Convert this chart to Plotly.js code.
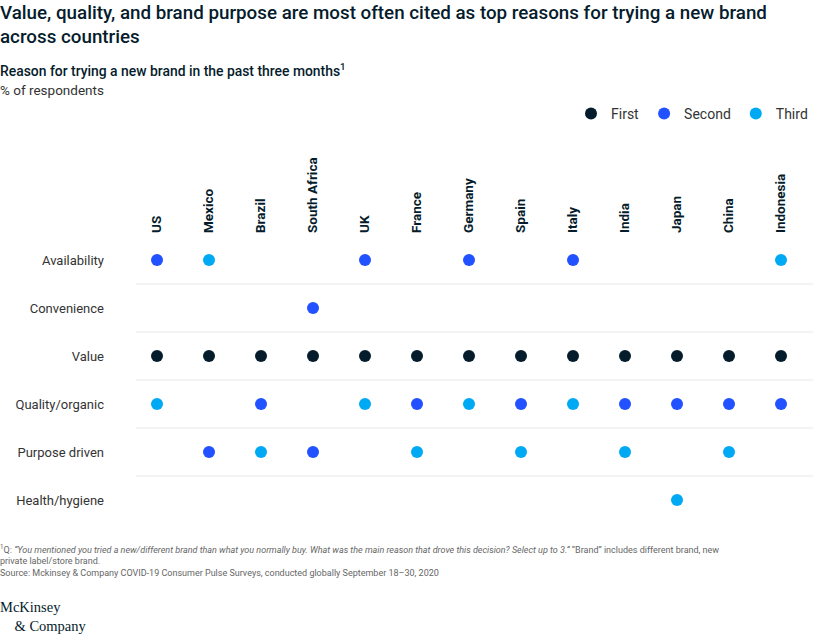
<!DOCTYPE html>
<html>
<head>
<meta charset="utf-8">
<script src="https://cdn.plot.ly/plotly-3.0.1.min.js"></script>
<style>html,body{margin:0;padding:0;background:#fff;}#chart{width:813px;height:636px;}</style>
</head>
<body>
<div id="chart"></div>
<script>
const countries = ['US','Mexico','Brazil','South Africa','UK','France','Germany','Spain','Italy','India','Japan','China','Indonesia'];
const reasons = ['Availability','Convenience','Value','Quality/organic','Purpose driven','Health/hygiene'];

const firstCountries = ['US','Mexico','Brazil','South Africa','UK','France','Germany','Spain','Italy','India','Japan','China','Indonesia'];
const firstReasons = ['Value','Value','Value','Value','Value','Value','Value','Value','Value','Value','Value','Value','Value'];

const secondCountries = ['US','Mexico','Brazil','South Africa','South Africa','UK','France','Germany','Spain','Italy','India','Japan','China','Indonesia'];
const secondReasons = ['Availability','Purpose driven','Quality/organic','Convenience','Purpose driven','Availability','Quality/organic','Availability','Quality/organic','Availability','Quality/organic','Quality/organic','Quality/organic','Quality/organic'];

const thirdCountries = ['US','Mexico','Brazil','UK','France','Germany','Spain','Italy','India','Japan','China','Indonesia'];
const thirdReasons = ['Quality/organic','Availability','Purpose driven','Quality/organic','Purpose driven','Quality/organic','Purpose driven','Quality/organic','Purpose driven','Health/hygiene','Purpose driven','Availability'];

const FONT = 'Roboto, "Liberation Sans", Arial, sans-serif';
const C1 = '#051C2C', C2 = '#2251FF', C3 = '#00A9F4';

function tr(name, xs, ys, color){
  return {type:'scatter', mode:'markers', name:name, x:xs, y:ys,
    marker:{color:color, size:12, line:{width:0}}, hoverinfo:'x+y+name'};
}
const data = [
  tr('First', firstCountries, firstReasons, C1),
  tr('Second', secondCountries, secondReasons, C2),
  tr('Third', thirdCountries, thirdReasons, C3)
];

const shapes = [];
for (let i = 0; i < reasons.length - 1; i++) {
  shapes.push({type:'line', xref:'paper', x0:0, x1:1, yref:'y', y0:i+0.5, y1:i+0.5,
    line:{color:'#e8e8e8', width:1}, layer:'below'});
}

// pixel helpers (plot area: x 136..813, y 236..524)
const px = x => (x - 136) / 677;
const py = y => (524 - y) / 288;

const layout = {
  width:813, height:636,
  margin:{l:136, r:0, t:236, b:112, autoexpand:false},
  paper_bgcolor:'#fff', plot_bgcolor:'#fff',
  font:{family:FONT, color:'#051C2C', size:14},
  xaxis:{type:'category', categoryorder:'array', categoryarray:countries, side:'top',
    range:[-0.404, 12.615], tickangle:-90, showgrid:false, zeroline:false, showline:false,
    ticks:'', tickfont:{family:FONT, size:13.5, color:'#051C2C', weight:700}, fixedrange:true,
    ticklabelstandoff:2, automargin:false},
  yaxis:{type:'category', categoryorder:'array', categoryarray:reasons, range:[5.5,-0.5],
    showgrid:false, zeroline:false, showline:false, ticks:'',
    tickfont:{family:FONT, size:13, color:'#333'}, ticklabelstandoff:31, fixedrange:true, automargin:false},
  showlegend:true,
  legend:{orientation:'h', x:1, xanchor:'right', y:py(114), yref:'paper', yanchor:'middle',
    font:{family:FONT, size:14, color:'#333'}, traceorder:'normal', bgcolor:'rgba(0,0,0,0)',
    itemwidth:30, tracegroupgap:0},
  shapes:shapes,
  annotations:[
    {text:'Value, quality, and brand purpose are most often cited as top reasons for trying a new brand<br>across countries',
      xref:'paper', yref:'paper', x:px(0), xshift:-2, xanchor:'left', y:py(25), yanchor:'middle', align:'left',
      showarrow:false, font:{family:FONT, size:18.8, color:'#051C2C', weight:500}},
    {text:'Reason for trying a new brand in the past three months<sup>1</sup>', xref:'paper', yref:'paper',
      x:px(0), xshift:-2, xanchor:'left', y:py(70), yanchor:'middle', showarrow:false,
      font:{family:FONT, size:13.9, color:'#051C2C', weight:500}},
    {text:'% of respondents', xref:'paper', yref:'paper',
      x:px(0), xshift:-2, xanchor:'left', y:py(90), yanchor:'middle', showarrow:false,
      font:{family:FONT, size:13.5, color:'#333'}},
    {text:'<sup>1</sup>Q: <i>“You mentioned you tried a new/different brand than what you normally buy. What was the main reason that drove this decision? Select up to 3.”</i> “Brand” includes different brand, new<br>private label/store brand.<br>Source: Mckinsey & Company COVID-19 Consumer Pulse Surveys, conducted globally September 18–30, 2020',
      xref:'paper', yref:'paper', x:px(0), xshift:-2, xanchor:'left', y:py(541), yanchor:'top', align:'left',
      showarrow:false, font:{family:FONT, size:9, color:'#666'}},
    {text:'McKinsey<br>    & Company', xref:'paper', yref:'paper', x:px(0), xshift:-2, xanchor:'left', y:py(616), yanchor:'middle',
      align:'left', showarrow:false, font:{family:'"Liberation Serif", "DejaVu Serif", serif', size:14.5, color:'#051C2C'}}
  ]
};

Plotly.newPlot('chart', data, layout, {displayModeBar:false, staticPlot:true});
</script>
</body>
</html>
